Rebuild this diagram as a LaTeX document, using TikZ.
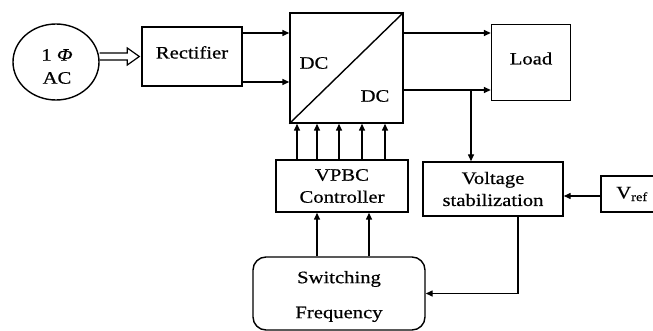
\documentclass[tikz,border=0pt]{standalone}
\usepackage{fontspec}
\setmainfont{Liberation Serif}[FakeStretch=1.18, FakeBold=0.5]
\usetikzlibrary{shapes.geometric,arrows.meta,calc}
\begin{document}
\begin{tikzpicture}[x=1pt,y=-1pt,
  line width=1.4pt,
  every node/.style={font=\fontsize{17.5}{22}\selectfont, align=center, inner sep=0pt},
  blk/.style={draw, rectangle},
  upper/.style={text height=12pt, text depth=8pt},
  arr/.style={-{Triangle[length=7pt,width=6pt]}},
  lbl/.style={}]
\clip (0,0) rectangle (653,331);
\fill[white] (0,0) rectangle (653,331);
% blocks
\node[draw, ellipse, minimum width=86pt, minimum height=76pt] (ac) at (56,62) {};
\node[lbl] (actext) at (57,66.5) {1 \textit{Φ}\\[1pt]AC};
\node[blk, upper, minimum width=100pt, minimum height=59pt] (rect) at (192,56.5) {Rectifier};
\node[blk, minimum width=113pt, minimum height=110pt] (dcdc) at (346.5,68) {};
\draw (dcdc.south west) -- (dcdc.north east);
\node[lbl] (dc1) at (314,63) {DC};
\node[lbl] (dc2) at (375,96) {DC};
\node[blk, upper, minimum width=79pt, minimum height=76pt] (load) at (531,62.5) {Load};
\node[blk, minimum width=132pt, minimum height=52pt] (vpbc) at (342,186) {VPBC\\Controller};
\node[blk, minimum width=140pt, minimum height=54pt] (volt) at (493,189) {Voltage\\stabilization};
\node[blk, minimum width=62pt, minimum height=36pt] (vref) at (632,194) {V\textsubscript{ref}};
\node[draw, rounded corners=13pt, minimum width=172pt, minimum height=73pt] (sw) at (339,293.5) {};
\node[lbl] (swtext) at (339,296.5) {Switching\\[13pt]Frequency};
% double (block) arrow from source to rectifier
\coordinate (da) at (ac.east |- 0,56.5);
\coordinate (db) at ([xshift=-2pt]rect.west |- 0,56.5);
\draw[line width=1.2pt, line join=miter]
  ($(da)+(0,-3.5)$) -- ($(db)+(-12,-3.5)$) -- ($(db)+(-12,-8.5)$) -- (db)
  -- ($(db)+(-12,8.5)$) -- ($(db)+(-12,3.5)$) -- ($(da)+(0,3.5)$);
% connectors
\draw[arr] (rect.east |- 0,33) -- (dcdc.west |- 0,33);
\draw[arr] (rect.east |- 0,82) -- (dcdc.west |- 0,82);
\draw[arr] (dcdc.east |- 0,33) -- (load.west |- 0,33);
\draw[arr] (dcdc.east |- 0,90) -- (load.west |- 0,90);
\coordinate (tap) at (471,90);
\draw[arr] (tap) -- (tap |- volt.north);
\foreach \x in {297,317,339,362,385}{
  \draw[arr] (vpbc.north -| \x,0) -- (dcdc.south -| \x,0);
}
\foreach \x in {317,369}{
  \draw[arr] (sw.north -| \x,0) -- (vpbc.south -| \x,0);
}
\draw[arr] (vref.west |- 0,196) -- (volt.east |- 0,196);
\draw[arr] (volt.south -| 518,0) |- (sw.east);
\end{tikzpicture}
\end{document}
